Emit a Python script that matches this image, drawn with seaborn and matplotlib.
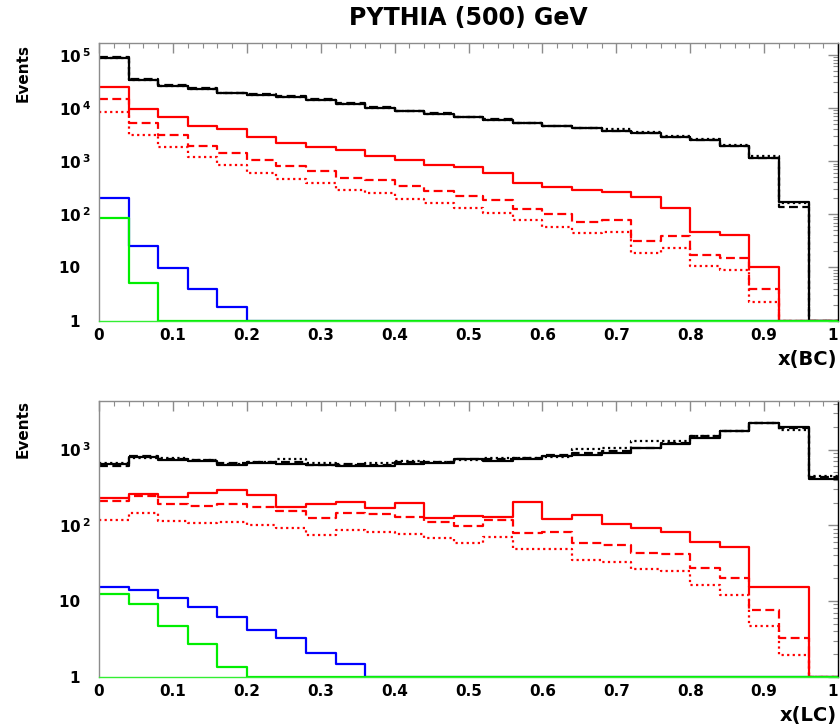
import numpy as np
import matplotlib
matplotlib.use("Agg")
from matplotlib import pyplot as plt
from matplotlib import ticker
import seaborn as sns

# 25 bins of 0.04 in x
edges = np.round(np.arange(0, 1.0001, 0.04), 2)
centers = (edges[:-1] + edges[1:]) / 2

# ---- top panel : x(BC) ----
bc_black_solid = [85000, 33000, 26000, 22300, 18700, 17700, 16300, 14000, 11700, 10000, 8700, 7600, 6600,
                  5900, 5100, 4600, 4200, 3740, 3330, 2800, 2500, 1920, 1120, 172, 0]
bc_black_dash = [89000, 35400, 26500, 23300, 19300, 18000, 16700, 14500, 12200, 10500, 8850, 7890, 6840,
                 6270, 5260, 4570, 4260, 3730, 3330, 2880, 2500, 1960, 1140, 139, 0]
bc_black_dot = [85000, 33000, 26000, 22300, 18700, 17700, 16300, 14000, 11700, 10000, 8700, 7600, 6600,
                5900, 5100, 4600, 4200, 3950, 3470, 2920, 2560, 2000, 1245, 165, 0]
bc_red_solid = [24300, 9350, 6640, 4660, 3960, 2880, 2220, 1870, 1610, 1260, 1050, 850, 790,
                590, 390, 330, 286, 266, 208, 131, 45.6, 40.7, 10, 0, 0]
bc_red_dash = [14500, 5300, 3090, 1950, 1400, 1070, 810, 660, 473, 440, 340, 278, 219,
               186, 124, 101, 72.6, 78, 31.8, 38.8, 17.4, 14.8, 3.88, 0, 0]
bc_red_dot = [8500, 3090, 1870, 1210, 850, 605, 455, 390, 286, 256, 191, 165, 129,
              107, 78, 58.5, 45, 47, 19, 22.9, 10.6, 8.96, 2.28, 0, 0]
bc_blue = [200, 25.7, 9.6, 3.88, 1.83] + [0] * 20
bc_green = [84, 5.0] + [0] * 23

# ---- bottom panel : x(LC) ----
lc_black_solid = [638, 794, 727, 707, 626, 670, 643, 626, 605, 605, 638, 656, 741,
                  707, 741, 822, 850, 910, 1040, 1200, 1440, 1740, 2220, 1970, 405]
lc_black_dash = [607, 822, 759, 728, 658, 677, 692, 625, 638, 625, 692, 677, 759,
                 743, 766, 850, 910, 960, 1060, 1240, 1510, 1740, 2265, 1910, 437]
lc_black_dot = [658, 766, 782, 728, 645, 692, 743, 658, 625, 658, 713, 692, 728,
                766, 782, 789, 1007, 1038, 1298, 1280, 1510, 1780, 2265, 1815, 448]
lc_red_solid = [232, 258, 239, 270, 292, 251, 172, 190, 201, 170, 195, 123, 132,
                129, 201, 120, 138, 103, 91, 81, 60, 51, 15.1, 15.1, 0]
lc_red_dash = [211, 245, 190, 182, 190, 172, 155, 123, 147, 139, 130, 111, 98,
               117, 80, 81, 57.6, 55, 43.4, 41.7, 27, 19.9, 7.7, 3.2, 0]
lc_red_dot = [119, 144, 115, 108, 111, 100, 91, 74, 87, 82, 77, 67, 57.6,
              70.6, 48, 48, 34.7, 32.6, 26.2, 25.1, 16.2, 12, 4.67, 1.91, 0]
lc_blue = [15.4, 14, 10.8, 8.4, 6.2, 4.2, 3.2, 2.03, 1.47] + [0] * 16
lc_green = [12.3, 9.1, 4.67, 2.7, 1.36] + [0] * 20

xticks = [0, 0.1, 0.2, 0.3, 0.4, 0.5, 0.6, 0.7, 0.8, 0.9, 1.0]
xticklabels = ["0", "0.1", "0.2", "0.3", "0.4", "0.5", "0.6", "0.7", "0.8", "0.9", "1"]

sns.set_style("white")
plt.rcParams['font.family'] = ['DejaVu Sans']
plt.rcParams['font.weight'] = 'bold'
plt.rcParams['text.color'] = 'black'
plt.rcParams['mathtext.fontset'] = 'custom'
plt.rcParams['mathtext.rm'] = 'DejaVu Sans:bold'
plt.rcParams['mathtext.bf'] = 'DejaVu Sans:bold'
plt.rcParams['mathtext.it'] = 'DejaVu Sans:bold'

DASH = (0, (4, 2))
DOT = (0, (1, 1.5))
FRAME = '#8c8c8c'


def draw_hist(ax, vals, color, ls):
    # empty bins sit on the axis floor (1), as in the original
    w = np.maximum(np.asarray(vals, dtype=float), 1.0)
    sns.histplot(x=centers, weights=w, bins=edges.tolist(), element="step", fill=False,
                 color=color, linestyle=ls, linewidth=1.6, ax=ax)


def style_axes(ax, ymax, ndec):
    ax.set_yscale("log")
    ax.set_xlim(0, 1)
    ax.set_ylim(1, ymax)
    ax.set_xlabel("")
    ax.set_ylabel("")
    for s in ax.spines.values():
        s.set_color(FRAME)
        s.set_linewidth(1.0)
    ax.spines['bottom'].set_color('#33ee33')
    ax.spines['right'].set_color('black')
    ax.set_xticks(xticks)
    ax.set_xticklabels(xticklabels)
    ax.get_xticklabels()[-1].set_horizontalalignment('right')  # keep "1" inside the figure
    ax.xaxis.set_minor_locator(ticker.MultipleLocator(0.02))
    yt = [10 ** k for k in range(ndec + 1)]
    ylab = []
    for k in range(ndec + 1):
        if k == 0:
            ylab.append("1  ")
        elif k == 1:
            ylab.append("10  ")
        else:
            ylab.append(r"$10^{\,%d}$" % k)
    ax.yaxis.set_major_locator(ticker.FixedLocator(yt))
    ax.set_yticklabels(ylab)
    ax.yaxis.set_minor_locator(ticker.LogLocator(base=10, subs=np.arange(2, 10)))
    ax.yaxis.set_minor_formatter(ticker.NullFormatter())
    ax.tick_params(which='both', direction='in', top=True, right=True, color=FRAME,
                   labelsize=11, labelcolor='black')
    ax.tick_params(which='major', length=7, width=1)
    ax.tick_params(which='minor', length=3.5, width=0.8)
    ax.tick_params(axis='x', pad=5)
    ax.tick_params(axis='y', pad=6)


fig = plt.figure(figsize=(8.4, 7.26), dpi=100)
ax1 = fig.add_axes([0.1179, 0.5583, 0.8798, 0.3825])
ax2 = fig.add_axes([0.1179, 0.0679, 0.8798, 0.3802])

for ax, series in [
    (ax1, [(bc_black_dot, 'black', DOT), (bc_black_dash, 'black', DASH), (bc_black_solid, 'black', '-'),
           (bc_red_dot, 'red', DOT), (bc_red_dash, 'red', DASH), (bc_red_solid, 'red', '-'),
           (bc_blue, 'blue', '-'), (bc_green, '#00ee00', '-')]),
    (ax2, [(lc_black_dot, 'black', DOT), (lc_black_dash, 'black', DASH), (lc_black_solid, 'black', '-'),
           (lc_red_dot, 'red', DOT), (lc_red_dash, 'red', DASH), (lc_red_solid, 'red', '-'),
           (lc_blue, 'blue', '-'), (lc_green, '#00ee00', '-')]),
]:
    for vals, c, ls in series:
        draw_hist(ax, vals, c, ls)

style_axes(ax1, 10 ** 5.22, 5)
style_axes(ax2, 10 ** 3.646, 3)

fig.text(468.5 / 840, 1 - 18 / 726, "PYTHIA (500) GeV", ha='center', va='center',
         fontsize=17, fontweight='bold', color='black')
fig.text(23 / 840, 1 - 44 / 726, "Events", rotation=90, ha='center', va='top',
         fontsize=11, fontweight='bold', color='black')
fig.text(23 / 840, 1 - 400 / 726, "Events", rotation=90, ha='center', va='top',
         fontsize=11, fontweight='bold', color='black')
fig.text(837 / 840, 1 - 360 / 726, "x(BC)", ha='right', va='center',
         fontsize=14, fontweight='bold', color='black')
fig.text(837 / 840, 1 - 715 / 726, "x(LC)", ha='right', va='center',
         fontsize=14, fontweight='bold', color='black')

fig.savefig("out.png", dpi=100)
